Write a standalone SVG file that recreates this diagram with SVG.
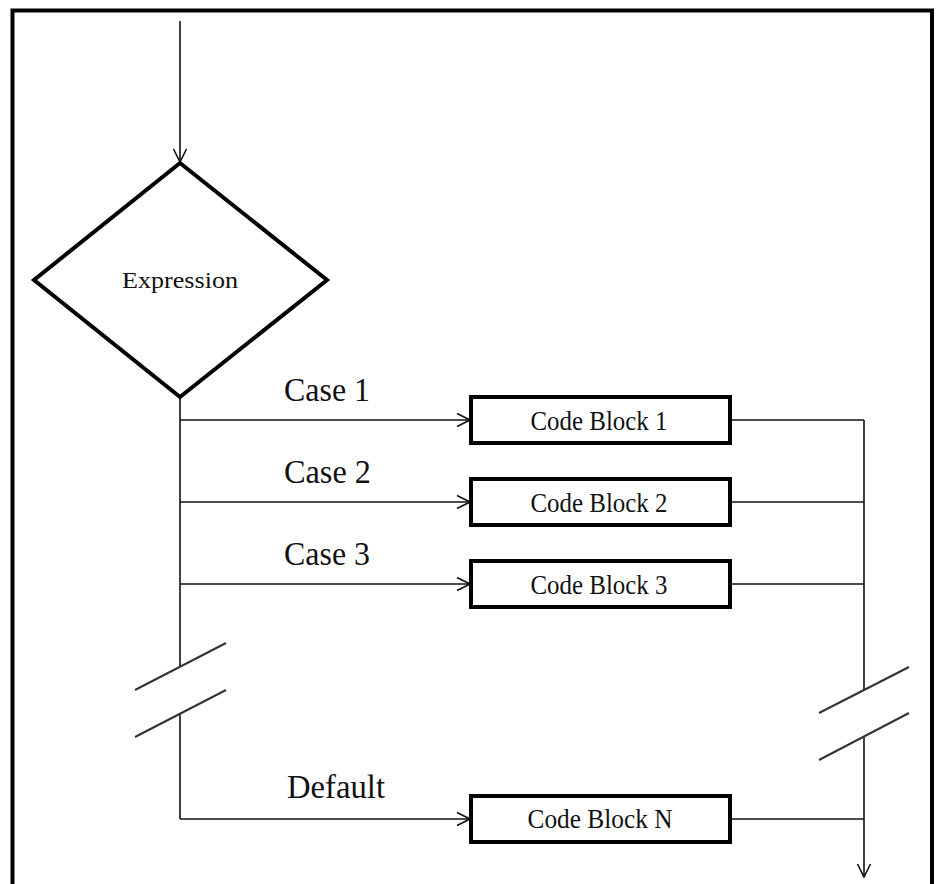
<svg xmlns="http://www.w3.org/2000/svg" width="938" height="884" viewBox="0 0 938 884">
  <style>
    .frame { fill: none; stroke: #000; stroke-width: 4; }
    .shape { fill: #fff; stroke: #000; stroke-width: 4; }
    .wire { fill: none; stroke: #111; stroke-width: 1.6; }
    .brk { fill: none; stroke: #333; stroke-width: 2; }
    text { font-family: "Liberation Serif", "Times New Roman", serif; fill: #111; }
    .lbl { font-size: 34px; }
    .blk { font-size: 28px; text-anchor: middle; }
    .dec { font-size: 24px; text-anchor: middle; }
  </style>
  <defs>
    <marker id="open" viewBox="0 0 16 16" refX="15" refY="8" markerWidth="16" markerHeight="16" markerUnits="userSpaceOnUse" orient="auto">
      <path d="M2,1.5 L15,8 L2,14.5" fill="none" stroke="#111" stroke-width="1.6"/>
    </marker>
  </defs>

  <rect width="938" height="884" fill="#fff"/>
  <rect class="frame" x="12.5" y="10.5" width="919.5" height="900"/>

  <g id="connectors">
    <!-- entry into the decision -->
    <line class="wire" x1="180" y1="21" x2="180" y2="162" marker-end="url(#open)"/>
    <!-- left trunk, broken -->
    <line class="wire" x1="180" y1="397" x2="180" y2="666"/>
    <line class="wire" x1="180" y1="713" x2="180" y2="819"/>
    <!-- branches into the blocks -->
    <line class="wire" x1="180" y1="420" x2="470" y2="420" marker-end="url(#open)"/>
    <line class="wire" x1="180" y1="502" x2="470" y2="502" marker-end="url(#open)"/>
    <line class="wire" x1="180" y1="584" x2="470" y2="584" marker-end="url(#open)"/>
    <line class="wire" x1="180" y1="819" x2="470" y2="819" marker-end="url(#open)"/>
    <!-- outputs to the right trunk -->
    <line class="wire" x1="730" y1="420" x2="864" y2="420"/>
    <line class="wire" x1="730" y1="502" x2="864" y2="502"/>
    <line class="wire" x1="730" y1="584" x2="864" y2="584"/>
    <line class="wire" x1="730" y1="819" x2="864" y2="819"/>
    <!-- right trunk, broken -->
    <line class="wire" x1="864" y1="420" x2="864" y2="690"/>
    <line class="wire" x1="864" y1="737" x2="864" y2="877" marker-end="url(#open)"/>
    <!-- break marks -->
    <line class="brk" x1="135" y1="690" x2="226" y2="643"/>
    <line class="brk" x1="135" y1="737" x2="226" y2="690"/>
    <line class="brk" x1="819" y1="713" x2="909" y2="667"/>
    <line class="brk" x1="819" y1="760" x2="909" y2="713"/>
  </g>

  <g id="labels">
    <text class="lbl" x="284" y="401" textLength="86" lengthAdjust="spacingAndGlyphs">Case 1</text>
    <text class="lbl" x="284" y="483" textLength="87" lengthAdjust="spacingAndGlyphs">Case 2</text>
    <text class="lbl" x="284" y="565" textLength="86" lengthAdjust="spacingAndGlyphs">Case 3</text>
    <text class="lbl" x="287" y="798" textLength="98" lengthAdjust="spacingAndGlyphs">Default</text>
  </g>

  <g id="expression">
    <polygon class="shape" points="180,163 327,280 180,397 34,280"/>
    <text class="dec" x="180" y="288" textLength="116" lengthAdjust="spacingAndGlyphs">Expression</text>
  </g>

  <g id="block1">
    <rect class="shape" x="471" y="397" width="259" height="46"/>
    <text class="blk" x="599" y="430" textLength="137" lengthAdjust="spacingAndGlyphs">Code Block 1</text>
  </g>
  <g id="block2">
    <rect class="shape" x="471" y="479" width="259" height="46"/>
    <text class="blk" x="599" y="512" textLength="137" lengthAdjust="spacingAndGlyphs">Code Block 2</text>
  </g>
  <g id="block3">
    <rect class="shape" x="471" y="561" width="259" height="46"/>
    <text class="blk" x="599" y="594" textLength="137" lengthAdjust="spacingAndGlyphs">Code Block 3</text>
  </g>
  <g id="blockN">
    <rect class="shape" x="471" y="796" width="259" height="46"/>
    <text class="blk" x="600" y="828" textLength="145" lengthAdjust="spacingAndGlyphs">Code Block N</text>
  </g>
</svg>
